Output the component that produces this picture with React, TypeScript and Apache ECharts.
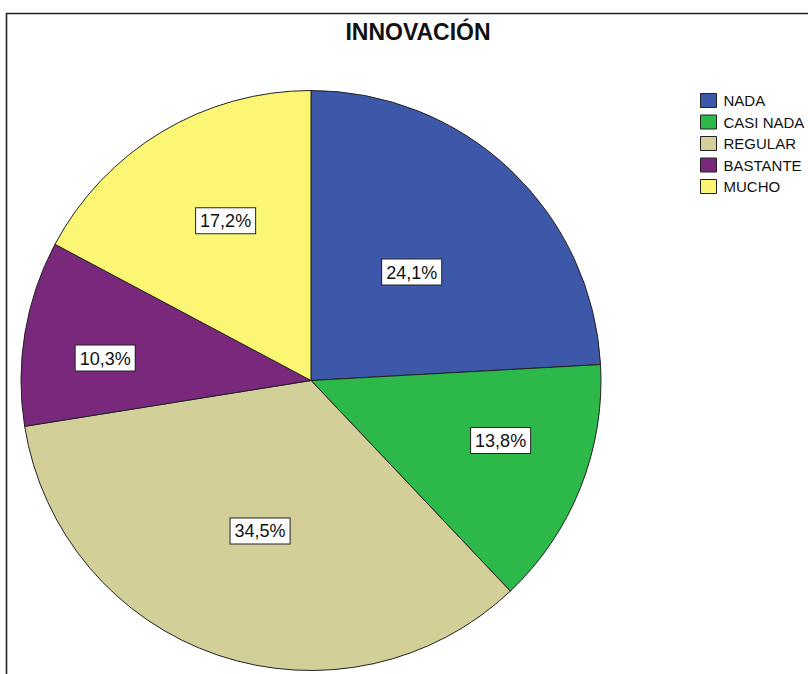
import React, { useEffect, useRef } from "react";
import * as echarts from "echarts";

const TITLE = "INNOVACIÓN";
const categories = ["NADA", "CASI NADA", "REGULAR", "BASTANTE", "MUCHO"];
const percents = [24.1, 13.8, 34.5, 10.3, 17.2];
const colors = ["#3d57a9", "#2db84a", "#d3cf99", "#79287c", "#fbf775"];
// label placement tuning: [radius fraction, angle shift in degrees]
const labelPlacement = [
  [0.51, 0],
  [0.69, 4],
  [0.55, 0.5],
  [0.71, 3.5],
  [0.62, -3],
];

export default function App() {
  const ref = useRef<HTMLDivElement>(null);
  useEffect(() => {
    if (!ref.current) return;
    const chart = echarts.init(ref.current, null, { renderer: "svg" });
    const font = "'Liberation Sans', Arial, sans-serif";
    const cx = 311;
    const cy = 380.5;
    const R = 290;
    const total = percents.reduce((a, b) => a + b, 0);
    const midAngles: number[] = [];
    let acc = 0;
    percents.forEach((v) => {
      const sweep = (v / total) * 360;
      midAngles.push(90 - (acc + sweep / 2));
      acc += sweep;
    });
    chart.setOption({
      animation: false,
      backgroundColor: "#ffffff",
      graphic: [
        {
          type: "polyline",
          shape: { points: [[6.5, 700], [6.5, 13.5], [820, 13.5]] },
          style: { stroke: "#222", lineWidth: 1.6, fill: null },
          z: 10,
        },
        {
          type: "text",
          x: 418,
          y: 32,
          style: {
            text: TITLE,
            fontFamily: font,
            fontWeight: "bold",
            fontSize: 23,
            fill: "#111",
            textAlign: "center",
            textVerticalAlign: "middle",
          },
        },
      ],
      legend: {
        orient: "vertical",
        left: 700,
        top: 93,
        padding: 0,
        icon: "rect",
        itemWidth: 16,
        itemHeight: 14,
        itemGap: 6.5,
        selectedMode: false,
        textStyle: {
          fontFamily: font,
          fontSize: 15,
          lineHeight: 15,
          color: "#111",
          padding: [0, 0, 0, 2],
        },
        itemStyle: { borderColor: "#222", borderWidth: 1 },
        data: categories,
      },
      series: [
        {
          type: "pie",
          center: [cx, cy],
          radius: [0, R],
          startAngle: 90,
          clockwise: true,
          avoidLabelOverlap: false,
          itemStyle: { borderColor: "#222", borderWidth: 1 },
          label: {
            show: true,
            position: "inside",
            fontFamily: font,
            fontSize: 18,
            color: "#111",
            backgroundColor: "#ffffff",
            borderColor: "#222",
            borderWidth: 1,
            padding: [4, 4, 3, 4],
            formatter: (p: any) => p.value.toFixed(1).replace(".", ",") + "%",
          },
          labelLayout: (params: any) => {
            const i = params.dataIndex;
            const [f, da] = labelPlacement[i];
            const a = ((midAngles[i] + da) * Math.PI) / 180;
            const w = params.labelRect.width;
            const h = params.labelRect.height;
            return {
              x: cx + R * f * Math.cos(a) - w / 2,
              y: cy - R * f * Math.sin(a) - h / 2,
              align: "left",
              verticalAlign: "top",
            };
          },
          labelLine: { show: false },
          emphasis: { disabled: true },
          data: categories.map((c, i) => ({
            name: c,
            value: percents[i],
            itemStyle: { color: colors[i] },
          })),
        },
      ],
    });
    return () => chart.dispose();
  }, []);
  return (
    <div
      ref={ref}
      style={{ position: "fixed", left: 0, top: 0, width: 808, height: 674 }}
    />
  );
}
